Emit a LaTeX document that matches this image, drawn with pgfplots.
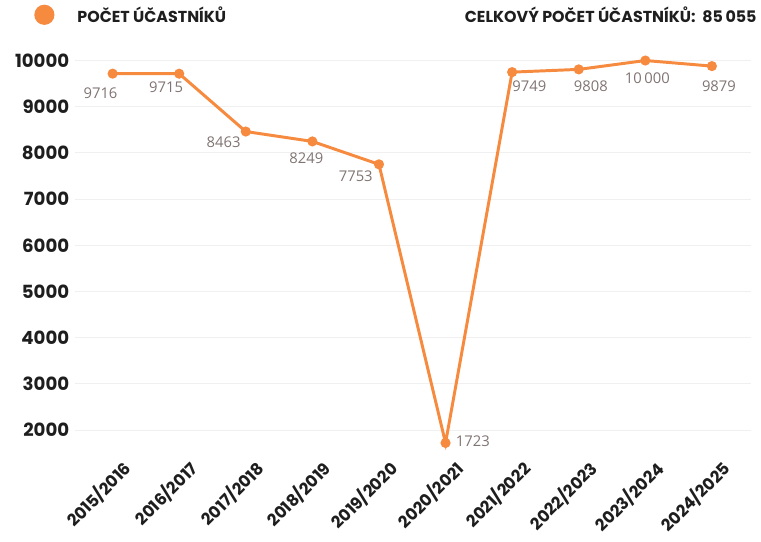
\documentclass[border=0pt]{standalone}
\usepackage{pgfplots}
\usepackage{pgfplotstable}
\usepackage{fontspec}
\pgfplotsset{compat=1.18}
\setmainfont{Poppins}
\newfontfamily\labelfont{Open Sans}

\definecolor{linec}{HTML}{F68A3E}
\definecolor{lblc}{RGB}{128,116,114}
\definecolor{txtc}{HTML}{1E1E1E}

% x, value, label offset in px (dx right, dy down), label text
\pgfplotstableread{
x  y      dx   dy   lbl
0  9716   -12  19   9716
1  9715   -13  13   9715
2  8463   -22  11   8463
3  8249   -6   17   8249
4  7753   -23  12   7753
5  1723   27   -2   1723
6  9749   17   14   9749
7  9808   12   17   9808
8  10000  2    18   {10\,000}
9  9879   7    20   9879
}\ucastnici

\begin{document}
\begin{tikzpicture}[x=1pt,y=1pt]
\begin{axis}[
    scale only axis,
    width=502pt,
    height=292pt,
    xmin=-0.56, xmax=9.58,
    ymin=1500, ymax=10000,
    clip=false,
    axis line style={draw=none},
    major tick length=0pt,
    xtick={0,...,9},
    xticklabels={2015/2016,2016/2017,2017/2018,2018/2019,2019/2020,2020/2021,2021/2022,2022/2023,2023/2024,2024/2025},
    xticklabel style={rotate=45, anchor=north east, font=\bfseries\fontsize{12.3}{14}\selectfont, text=txtc, xshift=5pt, yshift=-4pt},
    ytick={2000,3000,...,10000},
    yticklabel style={font=\bfseries\fontsize{13.5}{15}\selectfont, text=txtc, xshift=-1pt},
    /pgf/number format/assume math mode=true,
    scaled y ticks=false,
    y tick label style={/pgf/number format/.cd, 1000 sep={}},
    ymajorgrids,
    grid style={draw=gray!12, line width=0.8pt},
    enlarge x limits=false,
]
\addplot[
    color=linec, line width=2.2pt,
    mark=*, mark size=2.6pt, mark options={fill=linec, draw=linec},
    visualization depends on={\thisrow{dx} \as \dx},
    visualization depends on={\thisrow{dy} \as \dy},
    point meta=explicit symbolic,
    nodes near coords,
    nodes near coords style={anchor=center, xshift=0.75*\dx pt, yshift=-0.75*\dy pt,
        font=\labelfont\fontsize{11}{13}\selectfont, text=lblc},
] table[x=x, y=y, meta=lbl] {\ucastnici};

\path ([xshift=-56pt]rel axis cs:0,0) -- ++(0,1pt);
\path ([yshift=45pt]rel axis cs:0,1) -- ++(1pt,0);
\node[circle, fill=linec, minimum size=15pt, inner sep=0pt] at ([xshift=-23pt, yshift=34pt]rel axis cs:0,1) {};
\node[anchor=west, font=\bfseries\fontsize{11.8}{14}\selectfont, text=txtc] at ([xshift=-2pt, yshift=34pt]rel axis cs:0,1) {POČET ÚČASTNÍKŮ};
\node[anchor=east, font=\bfseries\fontsize{11.8}{14}\selectfont, text=txtc] at ([xshift=8pt, yshift=34pt]rel axis cs:1,1) {CELKOVÝ POČET ÚČASTNÍKŮ:\ \ 85\,055};
\end{axis}
\end{tikzpicture}
\end{document}
